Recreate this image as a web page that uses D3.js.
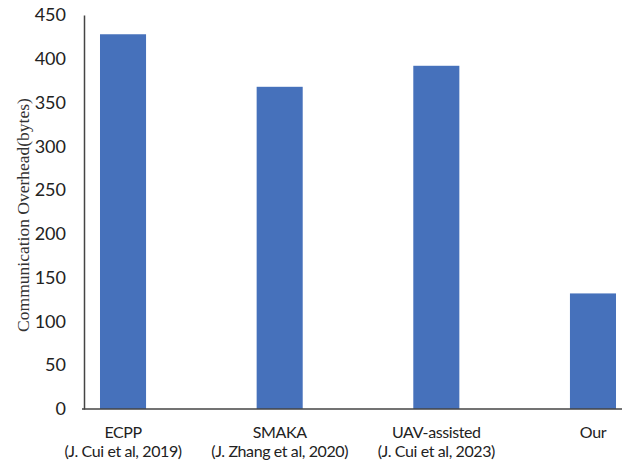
<!DOCTYPE html>
<html>
<head>
<meta charset="utf-8">
<script src="https://cdn.jsdelivr.net/npm/d3@7"></script>
<style>
  html, body { margin: 0; padding: 0; background: #fff; }
  svg { display: block; }
</style>
</head>
<body>
<svg id="chart" width="622" height="464"></svg>
<script>
// Communication overhead per scheme (bytes)
const categories = ["ECPP", "SMAKA", "UAV-assisted", "Our"];
const subLabels = ["(J. Cui et al, 2019)", "(J. Zhang et al, 2020)", "(J. Cui et al, 2023)", ""];
const overhead = [428, 368, 392, 132];
const yTicks = [0, 50, 100, 150, 200, 250, 300, 350, 400, 450];

const svg = d3.select("#chart");
const W = 622;
const axisX = 84, y0 = 409, yTop = 15;

const x = d3.scaleBand()
  .domain(categories)
  .range([44.7, 671.3])
  .paddingInner(0.706)
  .paddingOuter(0.353);

const y = d3.scaleLinear().domain([0, 450]).range([y0, yTop]);

// bars
svg.append("g").selectAll("rect")
  .data(categories)
  .join("rect")
  .attr("x", d => x(d))
  .attr("width", x.bandwidth())
  .attr("y", (d, i) => y(overhead[i]))
  .attr("height", (d, i) => y(0) - y(overhead[i]))
  .attr("fill", "#4671BB");

// y axis
const yAxis = d3.axisLeft(y).tickValues(yTicks).tickSize(0).tickPadding(18);
const gy = svg.append("g").attr("transform", `translate(${axisX},0)`).call(yAxis);
gy.select(".domain").attr("stroke", "#444").attr("stroke-width", 1.5);
gy.selectAll("text")
  .attr("font-family", "Lato, 'Open Sans', sans-serif")
  .attr("font-size", 18)
  .attr("fill", "#222");

// baseline
svg.append("line")
  .attr("x1", axisX - 2).attr("x2", W)
  .attr("y1", y0).attr("y2", y0)
  .attr("stroke", "#444").attr("stroke-width", 1.5);

// category labels (two lines)
const lab = svg.append("g").selectAll("text")
  .data(categories)
  .join("text")
  .attr("text-anchor", "middle")
  .attr("font-family", "Lato, 'Open Sans', sans-serif")
  .attr("font-size", 16)
  .attr("letter-spacing", "-0.4px")
  .attr("fill", "#222")
  .attr("transform", d => `translate(${x(d) + x.bandwidth() / 2},0)`);
lab.append("tspan").attr("x", 0).attr("y", 438).text(d => d);
lab.append("tspan").attr("x", 0).attr("y", 457).text((d, i) => subLabels[i]);

// y axis title
svg.append("text")
  .attr("transform", `translate(29,215) rotate(-90)`)
  .attr("text-anchor", "middle")
  .attr("font-family", "'Liberation Serif', 'Times New Roman', serif")
  .attr("font-size", 17.5)
  .attr("fill", "#333")
  .text("Communication Overhead(bytes)");
</script>
</body>
</html>
